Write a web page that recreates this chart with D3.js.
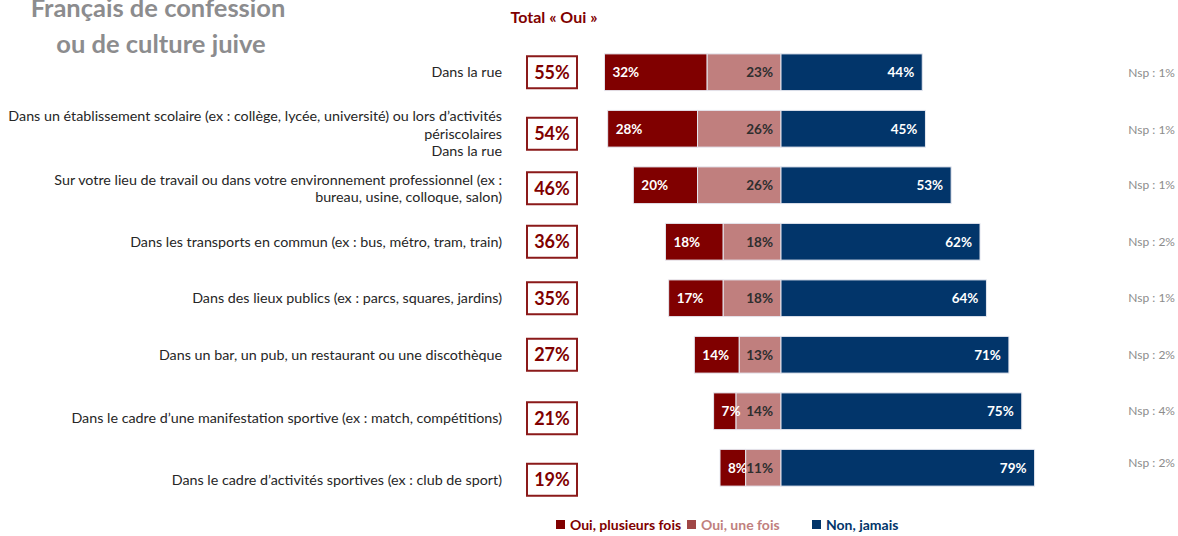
<!DOCTYPE html>
<html>
<head>
<meta charset="utf-8">
<script src="https://cdn.jsdelivr.net/npm/d3@7"></script>
<style>
body { margin: 0; background: #fff; }
text { font-family: Lato, "Open Sans", sans-serif; }
</style>
</head>
<body>
<div id="chart"></div>
<script>
var categories = [
    ["Dans la rue"],
    ["Dans un établissement scolaire (ex : collège, lycée, université) ou lors d\u2019activités", "périscolaires", "Dans la rue"],
    ["Sur votre lieu de travail ou dans votre environnement professionnel (ex :", "bureau, usine, colloque, salon)"],
    ["Dans les transports en commun (ex : bus, métro, tram, train)"],
    ["Dans des lieux publics (ex : parcs, squares, jardins)"],
    ["Dans un bar, un pub, un restaurant ou une discothèque"],
    ["Dans le cadre d\u2019une manifestation sportive (ex : match, compétitions)"],
    ["Dans le cadre d\u2019activités sportives (ex : club de sport)"]
];
var ouiPlusieurs = [32, 28, 20, 18, 17, 14, 7, 8];
var ouiUne = [23, 26, 26, 18, 18, 13, 14, 11];
var nonJamais = [44, 45, 53, 62, 64, 71, 75, 79];
var totalOui = [55, 54, 46, 36, 35, 27, 21, 19];
var nsp = [1, 1, 1, 2, 1, 2, 4, 2];
var seriesNames = ["Oui, plusieurs fois", "Oui, une fois", "Non, jamais"];

var W = 1178, H = 536;
var colors = ["#800000", "#c07f7e", "#02356a"];

// small vertical nudges of the left labels, as in the original slide
var labelShift = [0, 5, 3, 0, 0, 0, 7, 12];
var nspShift = [1, 1, 0, 0, 0, 0, 0, -5];

var svg = d3.select("#chart").append("svg")
    .attr("width", W)
    .attr("height", H);

var x = d3.scaleLinear().domain([-100, 100]).range([781 - 321, 781 + 321]);
var y = d3.scaleBand().domain(d3.range(categories.length))
    .range([44, 44 + 8 * 56.5]).paddingInner(0.35).paddingOuter(0.175);

// title
svg.append("text")
    .attr("x", 158).attr("y", 17)
    .attr("text-anchor", "middle")
    .style("font-size", "25.5px").style("font-weight", "bold")
    .style("fill", "#8c8c8e")
    .text("Français de confession");
svg.append("text")
    .attr("x", 161).attr("y", 53)
    .attr("text-anchor", "middle")
    .style("font-size", "25.5px").style("font-weight", "bold")
    .style("fill", "#8c8c8e")
    .text("ou de culture juive");

svg.append("text")
    .attr("x", 554).attr("y", 23)
    .attr("text-anchor", "middle")
    .style("font-size", "16px").style("font-weight", "bold")
    .style("fill", "#800000")
    .text("Total « Oui »");

var rows = svg.selectAll(".row")
    .data(categories)
    .enter().append("g")
    .attr("class", "row");

// category labels
rows.each(function(lines, i) {
    var cy = y(i) + y.bandwidth() / 2 + labelShift[i];
    var lh = 17.5;
    var t = d3.select(this).append("text")
        .attr("text-anchor", "end")
        .style("font-size", "14.3px")
        .style("fill", "#262626");
    lines.forEach(function(l, j) {
        t.append("tspan")
            .attr("x", 502)
            .attr("y", cy + (j - (lines.length - 1) / 2) * lh)
            .attr("dy", "0.35em")
            .text(l);
    });
});

// total boxes
rows.append("rect")
    .attr("x", 527)
    .attr("y", function(d, i) { return y(i) + y.bandwidth() / 2 + labelShift[i] - 16; })
    .attr("width", 50)
    .attr("height", 32)
    .style("fill", "#fff")
    .style("stroke", "#8b1a1a")
    .style("stroke-width", 2);
rows.append("text")
    .attr("x", 552)
    .attr("y", function(d, i) { return y(i) + y.bandwidth() / 2 + labelShift[i]; })
    .attr("dy", "0.36em")
    .attr("text-anchor", "middle")
    .style("font-size", "18px").style("font-weight", "bold")
    .style("fill", "#800000")
    .text(function(d, i) { return totalOui[i] + "%"; });

// stacked diverging bars
var segs = categories.map(function(c, i) {
    return [
        {i: i, k: 0, x0: -(ouiPlusieurs[i] + ouiUne[i]), x1: -ouiUne[i], v: ouiPlusieurs[i]},
        {i: i, k: 1, x0: -ouiUne[i], x1: 0, v: ouiUne[i]},
        {i: i, k: 2, x0: 0, x1: nonJamais[i], v: nonJamais[i]}
    ];
});

rows.selectAll(".seg")
    .data(function(d, i) { return segs[i]; })
    .enter().append("rect")
    .attr("class", "seg")
    .attr("x", function(d) { return x(d.x0); })
    .attr("y", function(d) { return y(d.i); })
    .attr("width", function(d) { return x(d.x1) - x(d.x0); })
    .attr("height", y.bandwidth())
    .style("fill", function(d) { return colors[d.k]; })
    .style("stroke", "#e6e8f0")
    .style("stroke-width", 1);

rows.selectAll(".lab")
    .data(function(d, i) { return segs[i]; })
    .enter().append("text")
    .attr("class", "lab")
    .attr("x", function(d) { return d.k == 0 ? x(d.x0) + 8 : x(d.x1) - 8; })
    .attr("y", function(d) { return y(d.i) + y.bandwidth() / 2; })
    .attr("dy", "0.36em")
    .attr("text-anchor", function(d) { return d.k == 0 ? "start" : "end"; })
    .style("font-size", "13.5px").style("font-weight", "bold")
    .style("fill", function(d) { return d.k == 1 ? "#2e2e2e" : "#fff"; })
    .text(function(d) { return d.v + "%"; });

// Nsp
rows.append("text")
    .attr("x", 1175)
    .attr("y", function(d, i) { return y(i) + y.bandwidth() / 2 + nspShift[i]; })
    .attr("dy", "0.35em")
    .attr("text-anchor", "end")
    .style("font-size", "12px")
    .style("fill", "#8c8c8c")
    .text(function(d, i) { return "Nsp : " + nsp[i] + "%"; });

// legend
var legendX = [556, 687, 812];
var legendText = ["#800000", "#c07f7e", "#02356a"];
var legendSq = ["#800000", "#a04646", "#02356a"];
var legend = svg.selectAll(".legend")
    .data(seriesNames)
    .enter().append("g")
    .attr("class", "legend")
    .attr("transform", function(d, i) { return "translate(" + legendX[i] + ",525)"; });
legend.append("rect")
    .attr("x", 0).attr("y", -5)
    .attr("width", 9).attr("height", 9)
    .style("fill", function(d, i) { return legendSq[i]; });
legend.append("text")
    .attr("x", 14)
    .attr("dy", "0.35em")
    .style("font-size", "14px").style("font-weight", "bold")
    .style("fill", function(d, i) { return legendText[i]; })
    .text(function(d) { return d; });
</script>
</body>
</html>
